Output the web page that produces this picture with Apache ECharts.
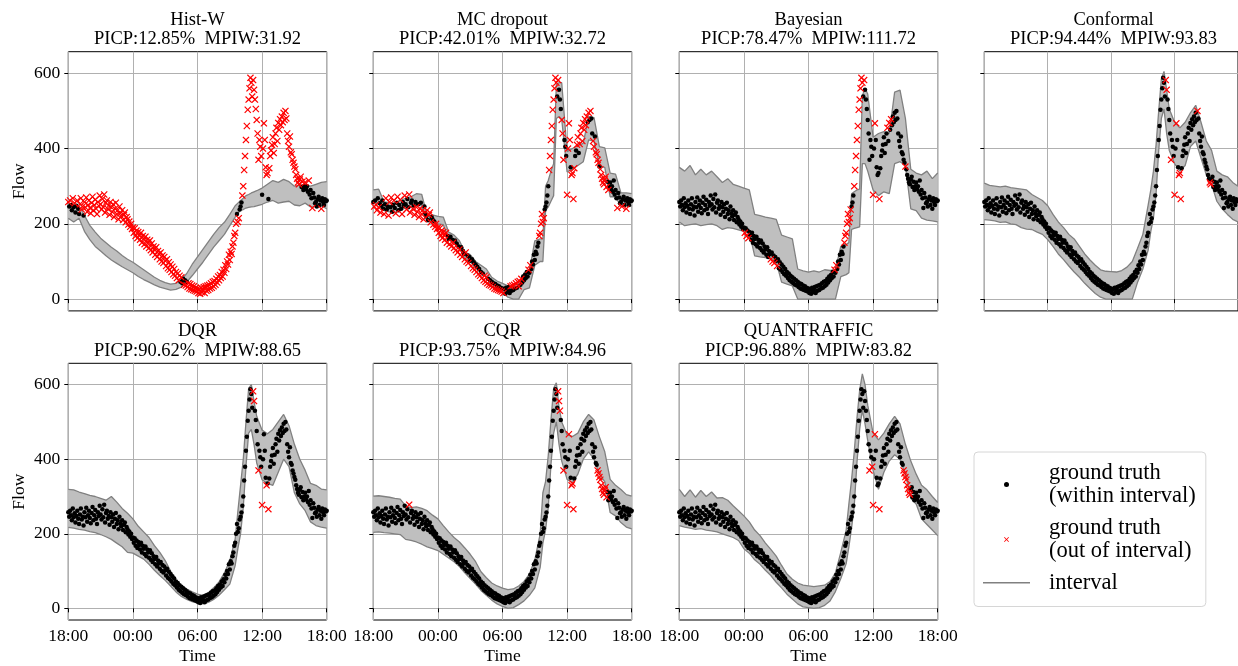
<!DOCTYPE html>
<html><head><meta charset="utf-8">
<script src="https://cdn.jsdelivr.net/npm/echarts@6/dist/echarts.min.js"></script>
<style>html,body{margin:0;padding:0;background:#fff}#c{width:1238px;height:666px}</style>
</head><body><div id="c"></div>
<script>
// ---------- data ----------
const methods = ['Hist-W','MC dropout','Bayesian','Conformal','DQR','CQR','QUANTRAFFIC'];
const picp = ['12.85%','42.01%','78.47%','94.44%','90.62%','93.75%','96.88%'];
const mpiw = ['31.92','32.72','111.72','93.83','88.65','84.96','83.82'];
const xTickHours = [0,6,12,18,24];            // hours after 18:00
const xTickLabels = ['18:00','00:00','06:00','12:00','18:00'];
const yTicks = [0,200,400,600];
const truthStepMinutes = 5;                  // ground truth sampled every 5 min from 18:00
const truth = [
// 18:00 - 00:00
258,246,262,250,236,268,244,255,230,248,262,240,
226,252,268,238,246,222,258,244,270,232,250,262,
242,228,256,272,236,250,264,240,226,258,248,275,
252,238,266,244,278,230,256,262,240,248,224,258,
244,232,252,218,240,256,226,236,212,246,228,220,
236,210,224,230,204,218,212,198,206,192,200,186,
190,
// 00:05 - 05:55
176,188,168,182,162,178,170,158,176,150,168,
160,146,166,140,158,150,136,156,130,148,124,140,
132,118,138,112,128,120,106,124,100,116,96,112,
102,88,106,82,98,78,92,72,86,66,80,62,
72,56,68,50,62,46,58,42,54,38,50,36,
46,32,42,28,40,26,36,24,34,22,30,20,
// 06:00 - 09:55
28,16,26,14,30,18,24,32,16,34,22,36,
24,38,28,42,30,46,34,48,38,54,44,60,
50,64,56,72,60,78,70,90,80,100,92,118,
104,126,120,140,150,168,176,200,226,205,215,238,
// 10:00 - 18:00
246,257,275,300,343,380,423,460,503,530,560,588,
575,538,582,556,530,505,476,440,370,423,405,380,
277,400,467,423,350,330,335,266,348,380,395,410,
430,388,412,440,455,420,468,450,478,462,485,470,
495,476,500,480,440,420,405,432,390,385,370,362,
352,345,330,320,310,305,318,325,298,312,290,300,
310,292,300,285,315,278,290,268,242,282,270,255,
258,246,265,272,250,262,240,268,258,250,265,260,
262
];
const bandHours = [0,0.5,1,1.5,2,2.5,3,3.5,4,4.5,5,5.5,6,6.5,7,7.5,8,8.5,9,9.5,10,10.5,11,11.5,12,12.5,13,13.5,14,14.5,15,15.5,
  15.75,16,16.25,16.5,16.75,17,17.25,17.5,18,18.5,19,19.5,20,20.5,21,21.5,22,22.5,23,23.5,24];

const histwLo = [215,205,215,180,158,140,128,115,104,95,86,78,70,60,52,45,38,32,28,24,26,32,45,62,80,98,118,138,155,172,195,218,
  228,236,238,242,244,245,246,248, 252,258,262,255,258,260,250,248,255,245,245,248,240];
const histwUp = [255,250,248,222,196,178,162,150,138,128,116,106,98,88,78,68,58,50,44,40,42,52,68,92,112,132,152,172,190,204,225,248,
  255,262,268,275,278,282,285,288, 295,305,315,310,318,312,300,302,305,300,305,310,312];

const mcLo = [255,255,235,232,230,236,242,245,250,248,205,205,200,198,158,150,135,108,100,82,70,60,40,30,20,5,0,0,25,30,90,100,
  100,235,245,260,275,480,485,478, 338,345,355,365,423,420,352,350,272,272,246,248,248];
const mcUp = [290,292,258,256,255,262,268,272,280,278,222,224,220,218,178,170,155,125,118,100,90,80,58,48,42,35,30,32,70,75,155,160,
  160,300,315,340,360,570,575,575, 392,400,408,414,485,482,405,402,335,332,282,282,280];

const bayesLo = [205,195,198,200,195,198,200,195,185,190,188,184,180,178,115,112,110,108,100,45,40,35,0,0,0,0,0,0,0,0,60,65,
  70,185,188,190,192,360,360,340, 290,275,285,280,360,365,355,240,235,215,210,208,205];
const bayesUp = [350,340,355,330,345,330,340,325,310,320,305,300,295,290,225,222,218,215,212,170,165,160,80,75,72,75,72,78,76,78,140,145,
  150,280,285,290,292,540,560,545, 430,440,445,440,550,555,480,345,335,330,340,320,335];

const confLo = [211,210,208,204,205,200,198,190,186,185,178,172,158,140,120,105,88,72,58,42,28,15,5,0,0,0,0,0,0,45,80,130,
  180,215,280,395,480,505,440,395, 360,340,355,405,420,375,330,305,260,240,225,212,205];
const confUp = [308,302,300,298,300,296,294,292,290,278,270,262,248,225,205,190,172,160,140,120,104,90,78,74,73,72,76,85,100,135,172,250,
  290,340,410,500,585,605,555,505, 470,455,470,495,515,470,420,395,340,330,325,310,300];

const dqrLo = [217,215,212,210,206,203,198,192,185,175,165,150,148,140,132,118,102,88,75,60,44,32,24,18,14,12,16,24,35,50,65,115,
  160,200,270,380,470,480,440,390, 345,335,330,365,400,380,310,280,262,232,222,218,215];
const dqrUp = [319,318,312,308,303,300,295,290,300,285,268,255,240,220,205,190,168,150,128,100,72,60,52,44,38,35,42,55,71,95,128,186,
  260,330,400,500,590,600,555,515, 478,468,480,500,520,490,440,400,370,335,330,320,318];

const cqrLo = [204,205,203,202,200,198,185,182,178,172,165,160,155,145,135,125,112,95,80,65,48,35,22,12,5,0,2,10,20,35,55,110,
  175,210,270,385,470,500,440,395, 346,337,360,400,420,400,360,340,257,248,230,218,213];
const cqrUp = [301,302,300,298,295,293,275,270,272,268,262,250,240,222,205,190,178,162,145,125,98,82,68,60,54,50,52,60,72,92,130,200,
  310,340,410,505,590,605,540,500, 465,461,470,500,520,505,460,420,346,330,319,305,301];

const qtLo = [222,218,215,212,214,210,208,205,200,195,190,182,160,148,130,118,102,88,70,55,38,25,12,4,2,0,2,8,20,45,80,120,
  165,215,275,390,480,532,495,450, 370,319,365,395,412,400,360,295,280,240,225,210,195];
const qtUp = [319,300,318,298,316,300,312,296,297,290,275,262,248,232,210,195,175,158,140,115,92,78,68,62,60,58,60,62,72,95,150,210,
  280,345,420,510,585,629,600,545, 470,452,470,495,515,495,440,395,360,330,318,300,284];

const bandsLo = [histwLo, mcLo, bayesLo, confLo, dqrLo, cqrLo, qtLo];
const bandsUp = [histwUp, mcUp, bayesUp, confUp, dqrUp, cqrUp, qtUp];

// ---------- chart ----------
const FONT = "'Liberation Serif','Times New Roman',serif";
const colLeft = [68.3, 373.3, 679.3, 984.3];
const rowTop = [51.7, 363.3];
const GW = 258.4, GH = 259.2;
const crossPath = 'path://M0,1.2L1.2,0L5,3.8L8.8,0L10,1.2L6.2,5L10,8.8L8.8,10L5,6.2L1.2,10L0,8.8L3.8,5Z';
const NAME_IN = 'ground truth\n(within interval)';
const NAME_OUT = 'ground truth\n(out of interval)';

function interp(xs, ys, x) {
  for (let k = 0; k < xs.length - 1; k++) {
    if (x >= xs[k] && x <= xs[k + 1]) {
      const t = (x - xs[k]) / (xs[k + 1] - xs[k]);
      return ys[k] + t * (ys[k + 1] - ys[k]);
    }
  }
  return ys[ys.length - 1];
}

const truthHours = truth.map((v, i) => i * truthStepMinutes / 60);
const grids = [], xAxes = [], yAxes = [], series = [], titles = [];

methods.forEach((m, p) => {
  const row = p < 4 ? 0 : 1, col = p < 4 ? p : p - 4;
  grids.push({left: colLeft[col], top: rowTop[row], width: GW, height: GH,
    show: true, borderColor: '#000', borderWidth: 1, backgroundColor: 'rgba(0,0,0,0)'});
  titles.push({text: m + '\n' + 'PICP:' + picp[p] + '  MPIW:' + mpiw[p],
    left: colLeft[col] + GW / 2, top: rowTop[row] - 41.5, textAlign: 'center', padding: 0,
    textStyle: {fontFamily: FONT, fontSize: 18.5, fontWeight: 'normal', lineHeight: 19.5, color: '#000'}});
  xAxes.push({gridIndex: p, type: 'value', min: 0, max: 24, interval: 6,
    axisLine: {show: false},
    axisTick: {show: true, length: 4, lineStyle: {color: '#000', width: 1}},
    axisLabel: {show: row === 1, margin: 7, fontFamily: FONT, fontSize: 17.5, color: '#000',
      formatter: v => xTickLabels[xTickHours.indexOf(v)]},
    splitLine: {show: true, lineStyle: {color: '#b0b0b0', width: 1}},
    name: row === 1 ? 'Time' : '', nameLocation: 'middle', nameGap: 27,
    nameTextStyle: {fontFamily: FONT, fontSize: 17.5, color: '#000'}});
  yAxes.push({gridIndex: p, type: 'value', min: -31.3, max: 657.3,
    axisLine: {show: false},
    axisTick: {show: true, length: 4, customValues: yTicks, lineStyle: {color: '#000', width: 1}},
    axisLabel: {show: col === 0, customValues: yTicks, margin: 8, fontFamily: FONT, fontSize: 17.5, color: '#000'},
    splitLine: {show: true, lineStyle: {color: '#b0b0b0', width: 1}},
    name: col === 0 ? 'Flow' : '', nameLocation: 'middle', nameGap: 40,
    nameTextStyle: {fontFamily: FONT, fontSize: 17.5, color: '#000'}});

  const lo = bandsLo[p], up = bandsUp[p];
  // filled band polygon, vertices placed through the axis scales
  series.push({type: 'custom', name: 'interval band', xAxisIndex: p, yAxisIndex: p, silent: true, z: 1, clip: true,
    data: [[bandHours[0], lo[0]]],
    renderItem: (params, api) => {
      const pts = [];
      for (let k = 0; k < bandHours.length; k++) pts.push(api.coord([bandHours[k], up[k]]));
      for (let k = bandHours.length - 1; k >= 0; k--) pts.push(api.coord([bandHours[k], lo[k]]));
      return {type: 'polygon', shape: {points: pts}, style: {fill: 'rgb(191,191,191)', stroke: null}};
    }});
  series.push({type: 'line', name: 'interval lower', xAxisIndex: p, yAxisIndex: p,
    data: bandHours.map((h, k) => [h, lo[k]]), symbol: 'none', silent: true, z: 2,
    lineStyle: {color: '#808080', width: 1.3}, itemStyle: {color: '#808080'}});
  series.push({type: 'line', name: 'interval', xAxisIndex: p, yAxisIndex: p,
    data: bandHours.map((h, k) => [h, up[k]]), symbol: 'none', silent: true, z: 2,
    lineStyle: {color: '#808080', width: 1.3}, itemStyle: {color: '#808080'}});

  const inside = [], outside = [];
  truth.forEach((v, i) => {
    const h = truthHours[i];
    const l = interp(bandHours, lo, h), u = interp(bandHours, up, h);
    (v >= l && v <= u ? inside : outside).push([h, v]);
  });
  series.push({type: 'scatter', name: NAME_IN, xAxisIndex: p, yAxisIndex: p, data: inside,
    symbol: 'circle', symbolSize: 4.5, itemStyle: {color: '#000', opacity: 1}, silent: true, z: 3});
  series.push({type: 'scatter', name: NAME_OUT, xAxisIndex: p, yAxisIndex: p, data: outside,
    symbol: crossPath, symbolSize: 7, itemStyle: {color: '#ff0000', opacity: 1}, silent: true, z: 4});
});

const chart = echarts.init(document.getElementById('c'), null, {renderer: 'canvas'});
chart.setOption({
  animation: false,
  backgroundColor: '#fff',
  title: titles,
  grid: grids,
  xAxis: xAxes,
  yAxis: yAxes,
  legend: {
    orient: 'vertical', left: 974, top: 452,
    padding: [9, 10, 12, 9], itemGap: 8, itemWidth: 47, itemHeight: 5,
    borderColor: '#d6d6d6', borderWidth: 1, borderRadius: 4, backgroundColor: '#fff',
    selectedMode: false,
    data: [
      {name: NAME_IN, icon: 'circle'},
      {name: NAME_OUT, icon: crossPath},
      {name: 'interval', icon: 'path://M0,0L47,0L47,1.5L0,1.5Z'}
    ],
    textStyle: {fontFamily: FONT, fontSize: 22.5, lineHeight: 23.5, color: '#000', padding: [0, 0, 0, 14]}
  },
  series: series
});
</script>
</body></html>
